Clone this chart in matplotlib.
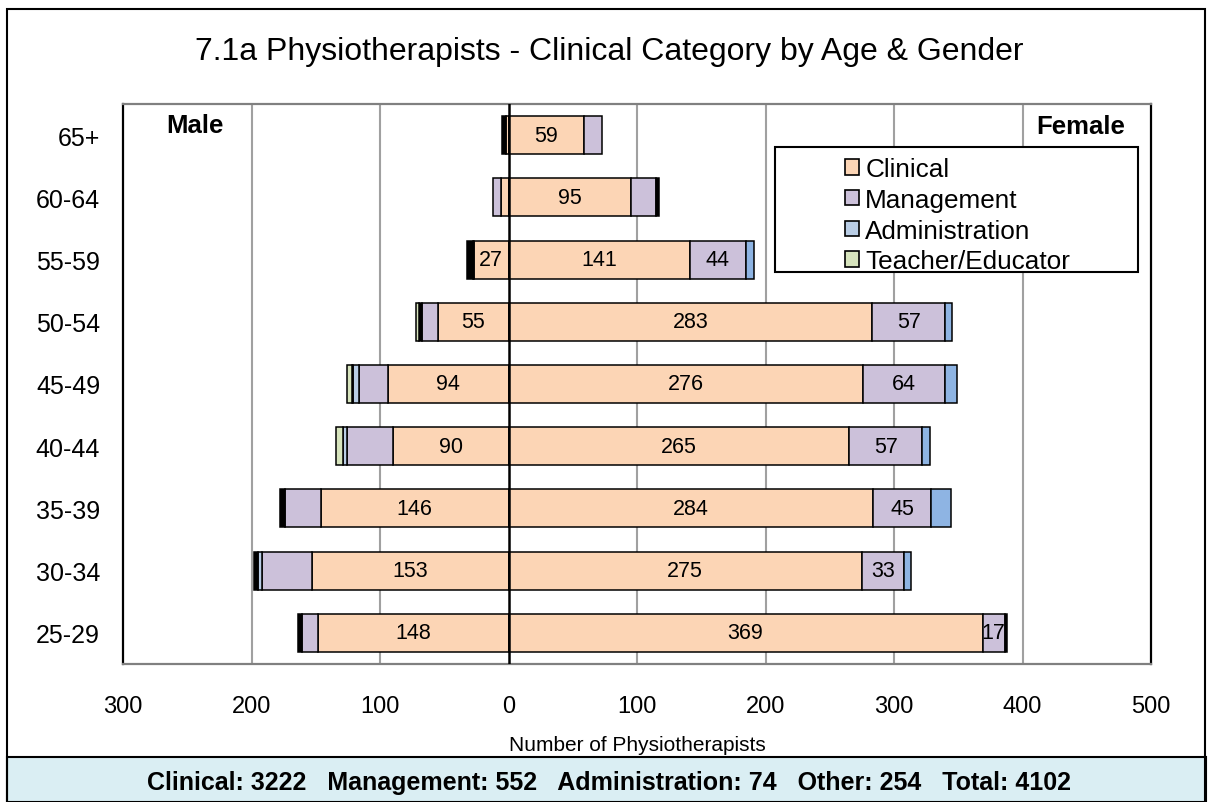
import matplotlib
matplotlib.use("Agg")
import matplotlib.pyplot as plt
from matplotlib.patches import Rectangle, Patch
import numpy as np

plt.rcParams['font.family'] = ['Liberation Sans', 'DejaVu Sans']

# ---------------- data ----------------
ages = ['25-29', '30-34', '35-39', '40-44', '45-49', '50-54', '55-59', '60-64', '65+']

male_clinical = [148, 153, 146, 90, 94, 55, 27, 6, 2]
male_mgmt = [13, 39, 28, 36, 22, 12, 1, 6, 0]
male_admin = [0, 3, 0, 3, 5, 0, 0, 0, 0]
male_other = [3, 3, 4, 0, 1, 3, 4, 0, 3]
male_teacher = [0, 0, 0, 5, 4, 2, 0, 0, 0]

female_clinical = [369, 275, 284, 265, 276, 283, 141, 95, 59]
female_mgmt = [17, 33, 45, 57, 64, 57, 44, 20, 14]
female_admin = [0, 5, 15, 6, 9, 5, 6, 0, 0]
female_other = [2, 0, 0, 0, 0, 0, 0, 2, 0]

male_clinical_shown = [True, True, True, True, True, True, True, False, False]
female_mgmt_shown = [True, True, True, True, True, True, True, False, False]

legend_labels = ['Clinical', 'Management', 'Administration', 'Teacher/Educator']
xticks = [-300, -200, -100, 0, 100, 200, 300, 400, 500]
xticklabels = ['300', '200', '100', '0', '100', '200', '300', '400', '500']

title = '7.1a Physiotherapists - Clinical Category by Age & Gender'
xlabel = 'Number of Physiotherapists'
summary = 'Clinical: 3222   Management: 552   Administration: 74   Other: 254   Total: 4102'

# ---------------- style ----------------
c_clin = '#FCD5B5'
c_mgmt = '#CCC1DA'
c_admin_f = '#8EB4E3'
c_admin_m = '#B9CDE5'
c_teach = '#D7E4BD'
c_other = '#000000'

W, H = 1208, 803
fig = plt.figure(figsize=(W / 100, H / 100), dpi=100)

def fx(px):
    return px / W

def fy(py):
    return 1 - py / H

ax = fig.add_axes([fx(123), fy(665), fx(1151) - fx(123), fy(105) - fy(665)])

y = np.arange(len(ages))
bh = 0.61
kw = dict(height=bh, edgecolor='black', linewidth=1.1, zorder=3)

# male (negative side)
left = np.zeros(len(ages))
series_m = [(male_clinical, c_clin), (male_mgmt, c_mgmt), (male_admin, c_admin_m),
            (male_other, c_other), (male_teacher, c_teach)]
containers_m = []
for vals, col in series_m:
    v = -np.array(vals, dtype=float)
    mask = v != 0
    cont = ax.barh(y[mask], v[mask], left=left[mask], color=col, **kw)
    containers_m.append((cont, np.array(vals)[mask], np.array(mask)))
    left = left + v

# female (positive side)
left = np.zeros(len(ages))
series_f = [(female_clinical, c_clin), (female_mgmt, c_mgmt), (female_admin, c_admin_f),
            (female_other, c_other)]
containers_f = []
for vals, col in series_f:
    v = np.array(vals, dtype=float)
    mask = v != 0
    cont = ax.barh(y[mask], v[mask], left=left[mask], color=col, **kw)
    containers_f.append((cont, v[mask], mask))
    left = left + v

lab_fs = 15.5
# labels: male clinical
cont, vals, mask = containers_m[0]
shown = np.array(male_clinical_shown)[mask]
ax.bar_label(cont, labels=[str(int(v)) if s else '' for v, s in zip(vals, shown)],
             label_type='center', fontsize=lab_fs, zorder=5)
# female clinical
cont, vals, mask = containers_f[0]
ax.bar_label(cont, labels=[str(int(v)) for v in vals], label_type='center',
             fontsize=lab_fs, zorder=5)
# female management
cont, vals, mask = containers_f[1]
shown = np.array(female_mgmt_shown)[mask]
ax.bar_label(cont, labels=[str(int(v)) if s else '' for v, s in zip(vals, shown)],
             label_type='center', fontsize=lab_fs, zorder=5)

ax.set_xlim(-300, 500)
ax.set_ylim(-0.5, len(ages) - 0.5)
ax.set_xticks(xticks)
ax.set_xticklabels(xticklabels, fontsize=17)
ax.set_yticks(y)
ax.set_yticklabels(ages, fontsize=18)
ax.tick_params(axis='both', length=0)
ax.tick_params(axis='x', pad=22.5)
ax.tick_params(axis='y', pad=16.5)
ax.set_xlabel(xlabel, fontsize=15)
ax.xaxis.set_label_coords(0.5, (665 - 746) / 560)
ax.xaxis.label.set_va('center')

for xv in xticks[1:-1]:
    if xv == 0:
        continue
    ax.axvline(xv, color='#A0A0A0', linewidth=1.5, zorder=1)
ax.axvline(0, color='black', linewidth=1.8, zorder=4)

for s in ['left', 'right']:
    ax.spines[s].set_color('black')
    ax.spines[s].set_linewidth(1.6)
for s in ['top', 'bottom']:
    ax.spines[s].set_color('#808080')
    ax.spines[s].set_linewidth(1.6)

# Male / Female labels
fig.text(fx(195), fy(126), 'Male', fontsize=18.5, fontweight='bold', ha='center', va='center')
fig.text(fx(1081), fy(127), 'Female', fontsize=18.5, fontweight='bold', ha='center', va='center')

# legend box
box = Rectangle((fx(775), fy(273)), fx(1138) - fx(775), fy(147.7) - fy(273),
                transform=fig.transFigure, facecolor='white', edgecolor='black',
                linewidth=1.5, zorder=6)
ax.add_patch(box)
box.set_clip_on(False)
handles = [Patch(facecolor=c, edgecolor='black', linewidth=1.2)
           for c in [c_clin, c_mgmt, c_admin_m, c_teach]]
leg = ax.legend(handles, legend_labels, loc='upper left',
                bbox_to_anchor=(fx(832), fy(145)), bbox_transform=fig.transFigure,
                frameon=False, fontsize=18.8, handlelength=0.55, handleheight=0.55,
                handletextpad=0.22, labelspacing=0.26, borderpad=0.0)
leg.set_zorder(7)

# title
fig.text(fx(609), fy(52), title, fontsize=23, ha='center', va='center')

# summary band
band = Rectangle((fx(7), 0), fx(1206) - fx(7), fy(758), transform=fig.transFigure,
                 facecolor='#DAEEF3', edgecolor='black', linewidth=1.5)
fig.patches.append(band)
fig.text(fx(609), fy(783), summary, fontsize=18, fontweight='bold', ha='center', va='center')

# outer frame
frame = Rectangle((fx(7), -0.01), fx(1205) - fx(7), fy(10) + 0.01, transform=fig.transFigure,
                  facecolor='none', edgecolor='black', linewidth=1.5)
fig.patches.append(frame)

fig.savefig('out.png', dpi=100)
